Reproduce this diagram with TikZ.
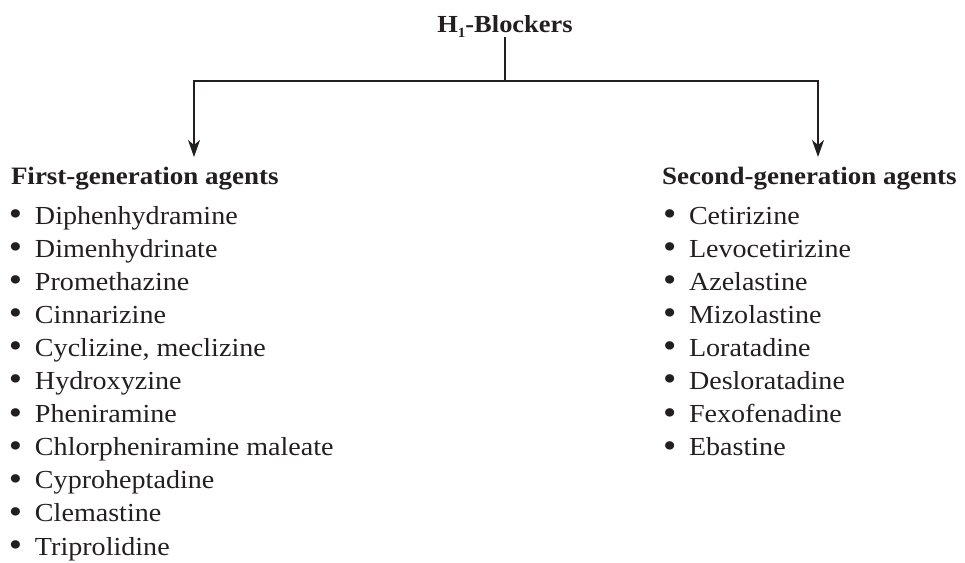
\documentclass[tikz,border=0pt]{standalone}
\usepackage{fontspec}
\setmainfont{Liberation Serif}[FakeStretch=1.08]
\usetikzlibrary{arrows.meta}
\definecolor{ink}{HTML}{231F20}
\newcommand{\mybul}{\raisebox{-0.12ex}{\scalebox{1.35}{\textbullet}}}
\begin{document}
\begin{tikzpicture}[x=1pt,y=-1pt,
  txt/.style={inner sep=0pt,outer sep=0pt,text=ink,anchor=base west},
  head/.style={txt,font=\fontsize{25}{30}\selectfont\bfseries},
  item/.style={txt,font=\fontsize{26}{30}\selectfont},
  conn/.style={draw=ink,line width=1.4pt},
  arr/.style={conn,-{Stealth[length=17pt,width=12pt,inset=5pt]}}]
\useasboundingbox (0,0) rectangle (965,562);
\node[inner sep=0pt,outer sep=0pt,text=ink,anchor=base,font=\fontsize{24.5}{30}\selectfont\bfseries] (title) at (505,32) {H\raisebox{-0.45ex}{\fontsize{14}{14}\selectfont 1}-Blockers};
\coordinate (j) at (505,81);
\coordinate (lt) at (194,157);
\coordinate (rt) at (818,157);
\draw[conn] (title.south) -- (j);
\draw[arr] (j) -| (lt);
\draw[arr] (j) -| (rt);
\node[head] (h1) at (11,184) {First-generation agents};
\node[head] (h2) at (662,184) {Second-generation agents};
\foreach \t [count=\i from 0] in {Diphenhydramine,Dimenhydrinate,Promethazine,Cinnarizine,{Cyclizine, meclizine},Hydroxyzine,Pheniramine,Chlorpheniramine maleate,Cyproheptadine,Clemastine,Triprolidine}
  \node[item] (a\i) at (9,224+33.1*\i) {\makebox[26pt][l]{\mybul}\t};
\foreach \t [count=\i from 0] in {Cetirizine,Levocetirizine,Azelastine,Mizolastine,Loratadine,Desloratadine,Fexofenadine,Ebastine}
  \node[item] (b\i) at (663,224+33.1*\i) {\makebox[26pt][l]{\mybul}\t};
\end{tikzpicture}
\end{document}
